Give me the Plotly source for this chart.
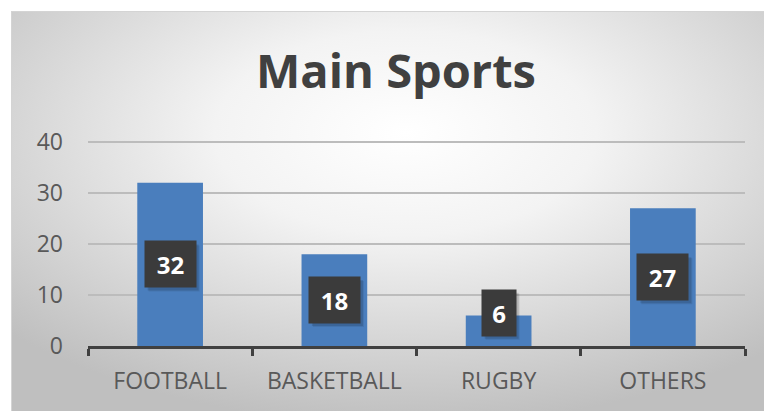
import base64
import plotly.graph_objects as go

# ---- data ----
categories = ["FOOTBALL", "BASKETBALL", "RUGBY", "OTHERS"]
values = [32, 18, 6, 27]
y_ticks = [0, 10, 20, 30, 40]
y_max = 40.6
title_text = "Main Sports"

# ---- style ----
W, H = 764, 411
ML, MR, MT, MB = 88, 19, 139, 65
CHART_L, CHART_T = 11, 11
BAR_COLOR = "#4A7EBD"
FONT = "Open Sans"
LABEL_MIN_Y = 6.5
BOX_H = 46

pw = W - ML - MR
ph = H - MT - MB

svg = f'''<svg xmlns="http://www.w3.org/2000/svg" width="{W-CHART_L}" height="{H-CHART_T}" viewBox="0 0 {W-CHART_L} {H-CHART_T}" preserveAspectRatio="none">
<defs><radialGradient id="g" cx="52%" cy="30%" r="72%">
<stop offset="0" stop-color="#ffffff"/><stop offset="0.35" stop-color="#f3f3f3"/><stop offset="1" stop-color="#bfbfbf"/>
</radialGradient></defs>
<rect x="0.5" y="0.5" width="{W-CHART_L+5}" height="{H-CHART_T+5}" fill="url(#g)" stroke="#d4d4d4" stroke-width="1"/>
</svg>'''
src = "data:image/svg+xml;base64," + base64.b64encode(svg.encode()).decode()

fig = go.Figure()
fig.add_trace(go.Bar(x=categories, y=values, marker=dict(color=BAR_COLOR, line=dict(width=0)),
                     hoverinfo="skip"))

annotations = []
shapes = []
for c, v in zip(categories, values):
    yc = max(v / 2, LABEL_MIN_Y)
    txt = str(v)
    w = 17 * (len(txt) + 1)
    for off, alpha in ((4, 0.08), (3, 0.12)):
        shapes.append(dict(type="rect", xref="x", yref="y", xsizemode="pixel", ysizemode="pixel",
                           xanchor=c, yanchor=yc, layer="above",
                           x0=-w / 2 + off, x1=w / 2 + off, y0=-BOX_H / 2 - off, y1=BOX_H / 2 - off,
                           fillcolor=f"rgba(0,0,0,{alpha})", line=dict(width=0)))
    annotations.append(dict(x=c, y=yc, xref="x", yref="y", text=f"<b>{txt}</b>", showarrow=False,
                            width=w, height=BOX_H, bgcolor="#3b3b3b",
                            font=dict(family=FONT, size=24, color="#ffffff"), borderpad=0))

annotations.append(dict(x=(396 - ML) / pw, y=(H - MB - 70) / ph, xref="paper", yref="paper",
                        text=f"<b>{title_text}</b>", showarrow=False, xanchor="center", yanchor="middle",
                        font=dict(family=FONT, size=47, color="#404040")))

fig.update_layout(
    width=W, height=H,
    margin=dict(l=ML, r=MR, t=MT, b=MB, pad=0),
    paper_bgcolor="#ffffff", plot_bgcolor="rgba(0,0,0,0)",
    showlegend=False, bargap=0.6,
    annotations=annotations, shapes=shapes,
    images=[dict(source=src, xref="paper", yref="paper",
                 x=(CHART_L - ML) / pw, y=(H - MB - CHART_T) / ph,
                 sizex=(W - CHART_L) / pw, sizey=(H - CHART_T) / ph,
                 xanchor="left", yanchor="top", sizing="stretch", layer="below")],
    xaxis=dict(showgrid=False, showline=True, linecolor="#404040", linewidth=3,
               ticks="outside", tickson="boundaries", ticklen=7, tickwidth=3, tickcolor="#404040",
               tickfont=dict(family=FONT, size=23, color="#595959"), ticklabelstandoff=12),
    yaxis=dict(range=[0, y_max], tickvals=y_ticks, showgrid=True, gridcolor="#bcbcbc", gridwidth=1.5,
               zeroline=False, showline=False, ticks="",
               tickfont=dict(family=FONT, size=23, color="#595959"), ticklabelstandoff=24),
)

fig.write_html("out.html", config={"displayModeBar": False},
               post_script="document.body.style.margin='0';document.body.style.padding='0';")
